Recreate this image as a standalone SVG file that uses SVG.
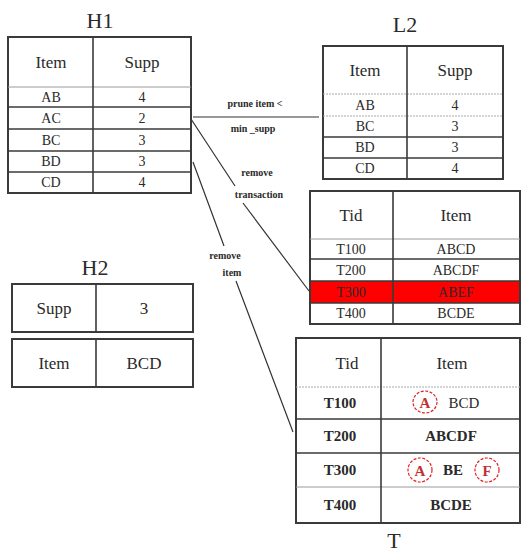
<svg xmlns="http://www.w3.org/2000/svg" width="521" height="552" viewBox="0 0 521 552">
<style>
text{font-family:'Liberation Serif','Times New Roman',serif;fill:#2a2a2a;text-anchor:middle;dominant-baseline:central}
.title{font-size:22px}
.hd{font-size:17px}
.c{font-size:14px}
.cb{font-size:15px;font-weight:bold}
.lbl{font-size:10px;font-weight:bold}
.frame{fill:#fff;stroke:#3a3a3a;stroke-width:2}
.rl{stroke:#3a3a3a;stroke-width:1.6}
.tl{stroke:#9a9a9a;stroke-width:1}
.dl{stroke:#aaa;stroke-width:1;stroke-dasharray:2 1}
.con{stroke:#333;stroke-width:1.2;fill:none}
.ring{fill:none;stroke:#e02020;stroke-width:1.2;stroke-dasharray:3 1.5}
.red{fill:#c03030}
</style>
<g id="H1">
<text class="title" x="100" y="20">H1</text>
<rect class="frame" x="8" y="37" width="183" height="156"/>
<line class="tl" x1="8" y1="87" x2="191" y2="87"/>
<line class="rl" x1="8" y1="107" x2="191" y2="107"/>
<line class="rl" x1="8" y1="129" x2="191" y2="129"/>
<line class="rl" x1="8" y1="151" x2="191" y2="151"/>
<line class="rl" x1="8" y1="172" x2="191" y2="172"/>
<line class="rl" x1="93" y1="37" x2="93" y2="193"/>
<text class="hd" x="51" y="62">Item</text>
<text class="hd" x="142" y="62">Supp</text>
<text class="c" x="51" y="97">AB</text><text class="c" x="142" y="97">4</text>
<text class="c" x="51" y="118">AC</text><text class="c" x="142" y="118">2</text>
<text class="c" x="51" y="140">BC</text><text class="c" x="142" y="140">3</text>
<text class="c" x="51" y="161">BD</text><text class="c" x="142" y="161">3</text>
<text class="c" x="51" y="182">CD</text><text class="c" x="142" y="182">4</text>
</g>

<g id="L2">
<text class="title" x="405" y="24">L2</text>
<rect class="frame" x="323" y="46" width="180" height="133"/>
<line class="dl" x1="323" y1="94" x2="503" y2="94"/>
<line class="dl" x1="323" y1="116" x2="503" y2="116"/>
<line class="rl" x1="323" y1="137" x2="503" y2="137"/>
<line class="rl" x1="323" y1="158" x2="503" y2="158"/>
<line class="rl" x1="407" y1="46" x2="407" y2="179"/>
<text class="hd" x="365" y="70">Item</text>
<text class="hd" x="455" y="70">Supp</text>
<text class="c" x="365" y="105">AB</text><text class="c" x="455" y="105">4</text>
<text class="c" x="365" y="126.5">BC</text><text class="c" x="455" y="126.5">3</text>
<text class="c" x="365" y="147.5">BD</text><text class="c" x="455" y="147.5">3</text>
<text class="c" x="365" y="168.5">CD</text><text class="c" x="455" y="168.5">4</text>
</g>

<g id="D">
<rect class="frame" x="310" y="191" width="210" height="133"/>
<rect x="311" y="281" width="208" height="22" fill="#ff0000"/>
<line class="tl" x1="310" y1="239" x2="520" y2="239"/>
<line class="rl" x1="310" y1="259" x2="520" y2="259"/>
<line class="rl" x1="310" y1="281" x2="520" y2="281"/>
<line class="rl" x1="310" y1="303" x2="520" y2="303"/>
<line class="rl" x1="393" y1="191" x2="393" y2="324"/>
<text class="hd" x="351" y="215">Tid</text>
<text class="hd" x="456" y="215">Item</text>
<text class="c" x="351" y="249">T100</text><text class="c" x="456" y="249">ABCD</text>
<text class="c" x="351" y="270">T200</text><text class="c" x="456" y="270">ABCDF</text>
<text class="c" x="351" y="292">T300</text><text class="c" x="456" y="292">ABEF</text>
<text class="c" x="351" y="313.5">T400</text><text class="c" x="456" y="313.5">BCDE</text>
</g>

<g id="H2">
<text class="title" x="95" y="267">H2</text>
<rect class="frame" x="12" y="284" width="181" height="48"/>
<line class="rl" x1="96" y1="284" x2="96" y2="332"/>
<text class="hd" x="54" y="308">Supp</text>
<text class="hd" x="144" y="308">3</text>
<rect class="frame" x="12" y="339" width="181" height="48"/>
<line class="rl" x1="96" y1="339" x2="96" y2="387"/>
<text class="hd" x="54" y="363">Item</text>
<text class="hd" x="144" y="363">BCD</text>
</g>

<g id="T">
<rect class="frame" x="296" y="338" width="224" height="185"/>
<line class="dl" x1="296" y1="387" x2="520" y2="387"/>
<line class="rl" x1="296" y1="419" x2="520" y2="419"/>
<line class="rl" x1="296" y1="453" x2="520" y2="453"/>
<line class="tl" x1="296" y1="487" x2="520" y2="487"/>
<line class="rl" x1="381" y1="338" x2="381" y2="523"/>
<text class="hd" x="347" y="363">Tid</text>
<text class="hd" x="452" y="363">Item</text>
<text class="cb" x="340" y="403">T100</text>
<ellipse class="ring" cx="425" cy="402" rx="12" ry="11"/>
<text class="cb red" x="425" y="403">A</text>
<text class="c" x="464" y="403" style="font-size:15px">BCD</text>
<text class="cb" x="340" y="436">T200</text>
<text class="cb" x="451" y="436">ABCDF</text>
<text class="cb" x="340" y="470">T300</text>
<ellipse class="ring" cx="420" cy="470" rx="12" ry="12"/>
<text class="cb red" x="420" y="471">A</text>
<text class="cb" x="453" y="470">BE</text>
<ellipse class="ring" cx="487" cy="470" rx="12" ry="12"/>
<text class="cb red" x="487" y="471">F</text>
<text class="cb" x="340" y="505">T400</text>
<text class="cb" x="451" y="505">BCDE</text>
<text class="title" x="394" y="540">T</text>
</g>

<g id="connectors">
<line class="con" x1="193" y1="117" x2="319" y2="117"/>
<path class="con" d="M191,119 L235,186 M243,203 L309,291"/>
<path class="con" d="M193,162 L224,246 M236,281 L293,432"/>
<text class="lbl" x="255" y="103">prune item &lt;</text>
<text class="lbl" x="253" y="128">min _supp</text>
<text class="lbl" x="257" y="172">remove</text>
<text class="lbl" x="259" y="194">transaction</text>
<text class="lbl" x="225" y="255">remove</text>
<text class="lbl" x="232" y="272">item</text>
</g>
</svg>
